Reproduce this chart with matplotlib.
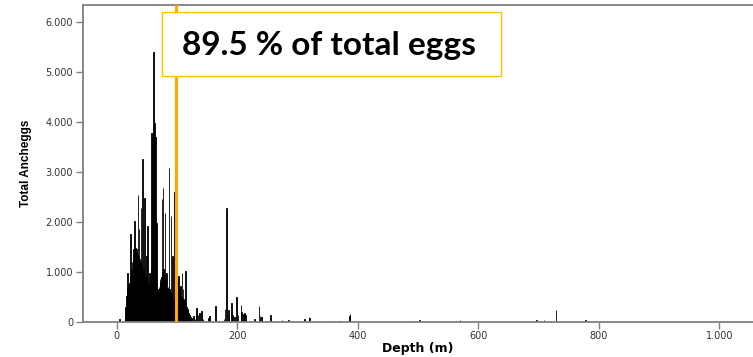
import matplotlib
matplotlib.use("Agg")
import matplotlib.pyplot as plt
from matplotlib.patches import Rectangle
from matplotlib.ticker import FuncFormatter

# Egg counts per sampled depth (m)
depth = [5,
         14, 15, 16, 17, 18, 19, 20, 21, 22, 23, 24, 25, 26, 27, 28, 29, 30,
         31, 32, 33, 34, 35, 36, 37, 38, 39, 40, 41, 42, 43, 44, 45, 46, 47,
         48, 49, 50, 51, 52, 53, 54, 55, 56, 57, 58, 59, 60, 61, 62, 63, 64,
         65, 66, 67, 68, 69, 70, 71, 72, 73, 74, 75, 76, 77, 78, 79, 80, 81,
         82, 83, 84, 85, 86, 87, 88, 89, 90, 91, 92, 93, 94, 95, 96, 97, 98,
         99, 100, 101, 102, 103, 104, 105, 106, 107, 108, 109, 110, 111, 112,
         113, 114, 115, 116, 117, 118, 119, 120, 121, 122, 123,
         126, 127, 130, 132, 133, 135, 137, 141, 143, 152, 154, 164, 178, 180,
         182, 185, 186, 190, 192, 195, 199, 201, 206, 207, 210, 212, 214, 229,
         236, 238, 240, 241, 255, 274, 285, 312, 319, 320, 355, 370, 386, 387,
         488, 502, 553, 570, 697, 709, 729, 778]
eggs = [60,
        120, 300, 520, 700, 980, 760, 720, 780, 900, 1750, 1050, 1200, 850,
        1350, 1450, 2010, 1500, 1480, 1400, 1450, 1350, 2530, 1300, 1850, 1250,
        1200, 2280, 1150, 1100, 3250, 1050, 1000, 2480, 950, 900, 1310, 850,
        1910, 800, 750, 980, 850, 900, 1100, 3780, 3700, 3800, 5400, 3900,
        3980, 3700, 1200, 1980, 700, 650, 580, 700, 650, 850, 800, 900, 2450,
        1000, 2680, 1050, 950, 2180, 850, 750, 980, 650, 700, 600, 3080, 650,
        600, 2110, 550, 500, 1310, 450, 420, 2600, 400, 380, 350, 300, 600,
        885, 910, 650, 700, 710, 500, 980, 450, 650, 420, 450, 400, 1010, 350,
        300, 250, 230, 180, 150, 130, 100, 60,
        80, 110, 60, 270, 180, 130, 180, 210, 60, 80, 110, 310, 60, 250,
        2283, 240, 120, 370, 130, 100, 490, 130, 330, 200, 150, 170, 140, 60,
        310, 120, 100, 90, 140, 40, 30, 66, 90, 80, 20, 20, 120, 155,
        20, 46, 10, 30, 40, 40, 230, 30]

cutoff_depth = 99
label_text = "89.5 % of total eggs"

fig = plt.figure(figsize=(7.53, 3.57), dpi=100)
ax = fig.add_axes([83 / 753, 1 - 322 / 357, 1 - 83 / 753, 317 / 357])

ax.bar(depth, eggs, width=1.0, color="black", edgecolor="black",
       linewidth=0.6, zorder=2)

# depth holding 89.5 % of the eggs
ax.axvline(cutoff_depth + 0.8, color="#F4A0A0", linewidth=1.2, zorder=3)
ax.axvline(cutoff_depth, color="#FFA800", linewidth=2.2, zorder=4)

ax.set_xlim(-56, 1056)
ax.set_ylim(0, 6330)
ax.set_xticks([0, 200, 400, 600, 800, 1000])
ax.set_yticks([0, 1000, 2000, 3000, 4000, 5000, 6000])
thousands = FuncFormatter(lambda v, p: f"{int(v):,}".replace(",", "."))
ax.xaxis.set_major_formatter(thousands)
ax.yaxis.set_major_formatter(thousands)

for side in ["left", "top", "bottom"]:
    ax.spines[side].set_color("#808080")
    ax.spines[side].set_linewidth(1.3)
ax.spines["right"].set_visible(False)
ax.tick_params(axis="both", colors="#808080", labelcolor="#333333",
               labelsize=7, length=5, width=1)
ax.tick_params(axis="y", pad=2)
ax.tick_params(axis="x", pad=1.5)

ax.set_xlabel("Depth (m)", fontsize=9, fontweight="bold", labelpad=1)
ax.set_ylabel("Total Ancheggs", fontsize=8.5, fontweight="bold",
              family=["Liberation Sans Narrow", "Liberation Sans"],
              labelpad=10)

# annotation box
box = Rectangle((162 / 753, 1 - 76 / 357), 339 / 753, 64 / 357,
                transform=fig.transFigure, facecolor="white",
                edgecolor="#FFC000", linewidth=1.0, zorder=5)
fig.add_artist(box)
fig.text(329 / 753, 1 - 46 / 357, label_text, ha="center", va="center",
         fontsize=24, fontweight="bold", family=["Lato", "DejaVu Sans"],
         zorder=6)

fig.savefig("out.png", dpi=100)
